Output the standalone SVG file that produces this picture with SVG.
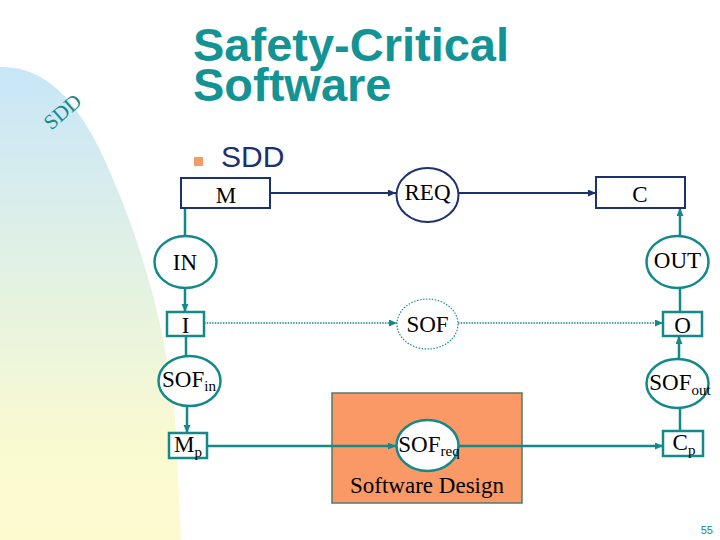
<svg xmlns="http://www.w3.org/2000/svg" width="720" height="540" viewBox="0 0 720 540">
<defs>
<linearGradient id="bg" x1="0" y1="0" x2="0" y2="1">
<stop offset="0" stop-color="#c8e6f8"/>
<stop offset="0.5" stop-color="#e6f3e0"/>
<stop offset="0.8" stop-color="#fafad0"/>
<stop offset="1" stop-color="#fcfbd0"/>
</linearGradient>
<marker id="at" markerUnits="userSpaceOnUse" markerWidth="9" markerHeight="8" refX="8" refY="3.5" orient="auto">
<path d="M0,0 L8,3.5 L0,7 z" fill="#14898a"/>
</marker>
<marker id="an" markerUnits="userSpaceOnUse" markerWidth="9" markerHeight="8" refX="8" refY="3.5" orient="auto">
<path d="M0,0 L8,3.5 L0,7 z" fill="#1c3170"/>
</marker>
</defs>
<style>
.t{stroke:#14898a;stroke-width:2.5;fill:#ffffff}
.n{stroke:#1c3170;stroke-width:2;fill:#ffffff}
.d{stroke:#14898a;stroke-width:1.2;stroke-dasharray:1.5 1.5;fill:#ffffff}
.lt{stroke:#14898a;stroke-width:2.5;fill:none}
.ln{stroke:#1c3170;stroke-width:2;fill:none}
.ld{stroke:#14898a;stroke-width:1.5;stroke-dasharray:1.5 1.2;fill:none}
.serif{font-family:'Liberation Serif','DejaVu Serif','Times New Roman',serif}
.lbl{font-family:'Liberation Serif','DejaVu Serif','Times New Roman',serif;font-size:23px;fill:#000000;text-anchor:middle}
.sub{font-size:15px}
.sans{font-family:'Liberation Sans',Arial,sans-serif}
</style>
<path d="M0,67 C45,66 75,100 100,150 C140,235 168,330 176,430 L181,540 L0,540 Z" fill="url(#bg)"/>
<text class="serif" transform="translate(67,117) rotate(-41)" font-size="21" fill="#14898a" text-anchor="middle">SDD</text>
<g id="title" class="sans" font-weight="bold" font-size="47" fill="#139393">
<text x="193" y="61">Safety-Critical</text>
<text x="193" y="101">Software</text>
</g>
<g id="bullet">
<rect x="194" y="157" width="9" height="9" fill="#f79a6a"/>
<text class="sans" x="221" y="167" font-size="30" fill="#1c3170">SDD</text>
</g>
<rect id="software-design" x="332" y="393" width="190" height="110" fill="#fb9966" stroke="#527a6a" stroke-width="1.5"/>
<text x="427" y="493" class="lbl">Software Design</text>
<g id="connectors">
<line class="ln" x1="270" y1="193" x2="396" y2="193" marker-end="url(#an)"/>
<line class="ln" x1="459" y1="193" x2="596" y2="193" marker-end="url(#an)"/>
<line class="lt" x1="185" y1="208" x2="185" y2="236"/>
<line class="lt" x1="185" y1="288" x2="185" y2="312" marker-end="url(#at)"/>
<line class="lt" x1="186" y1="336" x2="186" y2="356"/>
<line class="lt" x1="187" y1="406" x2="187" y2="433" marker-end="url(#at)"/>
<line class="ld" x1="204" y1="323" x2="397" y2="323" marker-end="url(#at)"/>
<line class="ld" x1="458" y1="323" x2="663" y2="323" marker-end="url(#at)"/>
<line class="lt" x1="680" y1="236" x2="680" y2="208" marker-end="url(#at)"/>
<line class="lt" x1="680" y1="288" x2="680" y2="312"/>
<line class="lt" x1="679" y1="359" x2="679" y2="336" marker-end="url(#at)"/>
<line class="lt" x1="680" y1="408" x2="680" y2="431"/>
<line class="lt" x1="207" y1="446" x2="396" y2="446" marker-end="url(#at)"/>
<line class="lt" x1="459" y1="446" x2="663" y2="446" marker-end="url(#at)"/>
</g>
<g id="M"><rect class="n" x="181" y="178" width="89" height="30"/><text class="lbl" x="226" y="203">M</text></g>
<g id="REQ"><ellipse class="n" cx="427.5" cy="195" rx="31" ry="27"/><text class="lbl" x="427.5" y="200">REQ</text></g>
<g id="C"><rect class="n" x="596" y="177" width="89" height="31"/><text class="lbl" x="640" y="202">C</text></g>
<g id="IN"><ellipse class="t" cx="185.5" cy="262" rx="31" ry="26"/><text class="lbl" x="185" y="270">IN</text></g>
<g id="OUT"><ellipse class="t" cx="677.5" cy="262" rx="31" ry="26"/><text class="lbl" x="677.5" y="268">OUT</text></g>
<g id="I"><rect class="t" x="167" y="312" width="37" height="24"/><text class="lbl" x="185.5" y="333">I</text></g>
<g id="SOF"><ellipse class="d" cx="427.5" cy="324" rx="30.5" ry="25"/><text class="lbl" x="427.5" y="332">SOF</text></g>
<g id="O"><rect class="t" x="663" y="312" width="39" height="24"/><text class="lbl" x="682.5" y="333">O</text></g>
<g id="SOFin"><ellipse class="t" cx="189.5" cy="381" rx="31" ry="25"/><text class="lbl" x="189" y="387">SOF<tspan class="sub" dy="4">in</tspan></text></g>
<g id="SOFout"><ellipse class="t" cx="677.5" cy="383.5" rx="31" ry="24.5"/><text class="lbl" x="680" y="390">SOF<tspan class="sub" dy="5">out</tspan></text></g>
<g id="Mp"><rect class="t" x="169" y="433" width="38" height="25"/><text class="lbl" x="188" y="452">M<tspan class="sub" dy="5">p</tspan></text></g>
<g id="SOFreq"><ellipse class="t" cx="427.5" cy="445.5" rx="31" ry="25.5"/><text class="lbl" x="429" y="452">SOF<tspan class="sub" dy="4">req</tspan></text></g>
<g id="Cp"><rect class="t" x="663" y="431" width="40" height="25"/><text class="lbl" x="684" y="450">C<tspan class="sub" dy="5">p</tspan></text></g>
<text class="sans" x="713" y="534" font-size="11" fill="#14898a" text-anchor="end">55</text>
</svg>
